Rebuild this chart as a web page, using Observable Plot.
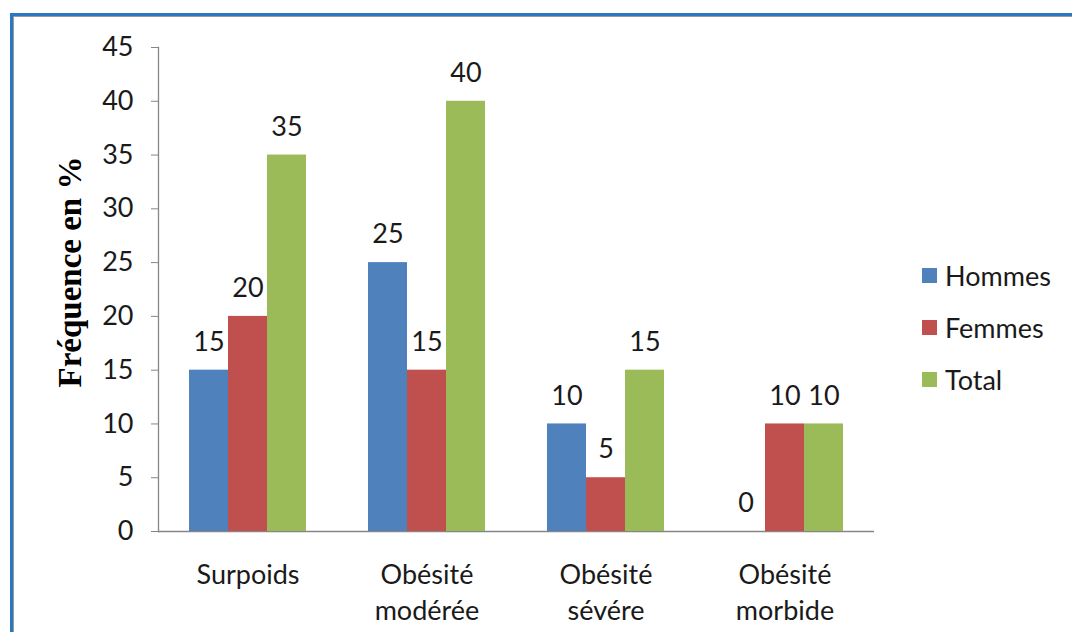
<!DOCTYPE html>
<html><head><meta charset="utf-8">
<script src="https://cdn.jsdelivr.net/npm/d3@7"></script>
<script src="https://cdn.jsdelivr.net/npm/@observablehq/plot@0.6"></script>
<style>
body{margin:0;background:#fff;width:1072px;height:632px;overflow:hidden;position:relative;font-family:Lato,sans-serif}
#frame{position:absolute;left:10px;top:13px;width:1100px;height:700px;border-left:3px solid #2a78c2;border-top:3px solid #2a78c2;box-shadow:inset 1px 1px 0 #9a9a9a;}
#chart{position:absolute;left:0;top:0}
#ylabel{position:absolute;left:70px;top:272px;transform:translate(-50%,-50%) rotate(-90deg);white-space:nowrap;font-family:"Liberation Serif",serif;font-weight:bold;font-size:33px;color:#000;line-height:1}
#legend{position:absolute;left:922px;top:249px;font-size:27px;color:#1a1a1a}
.item{display:flex;align-items:center;height:52px}
.sw{width:15px;height:15px;margin-right:8px}
</style></head><body>
<div id="frame"></div><div id="chart"></div><div id="ylabel"></div><div id="legend"></div>
<script>
const categories = ["Surpoids", "Obésité\nmodérée", "Obésité\nsévére", "Obésité\nmorbide"];
const series = ["Hommes", "Femmes", "Total"];
const hommes = [15, 25, 10, 0];
const femmes = [20, 15, 5, 10];
const total = [35, 40, 15, 10];
const colors = ["#4f81bd", "#c0504d", "#9bbb59"];
const yTicks = [0, 5, 10, 15, 20, 25, 30, 35, 40, 45];
const yLabel = "Fréquence en %";

const valuesBySeries = [hommes, femmes, total];
const table = [];
categories.forEach((c, i) => series.forEach((s, j) => table.push({cat: c, series: s, value: valuesBySeries[j][i]})));

const chart = Plot.plot({
  width: 1072, height: 632,
  marginLeft: 157, marginRight: 197, marginTop: 47, marginBottom: 101,
  style: {fontFamily: "Lato, sans-serif", fontSize: "27px", color: "#1a1a1a", background: "transparent"},
  fx: {domain: categories, padding: 0, label: null},
  x: {domain: series, paddingInner: 0, paddingOuter: 0.78, axis: null},
  y: {domain: [0, 45]},
  color: {domain: series, range: colors},
  marks: [
    Plot.frame({anchor: "left", facet: "super", stroke: "#868686", strokeWidth: 1.3}),
    Plot.ruleY([0], {stroke: "#868686", strokeWidth: 1.3}),
    Plot.barY(table, {fx: "cat", x: "series", y: "value", fill: "series"}),
    Plot.text(table, {fx: "cat", x: "series", y: "value", text: d => String(d.value), dy: -28, fontSize: 27, fill: "#1a1a1a"}),
    Plot.axisY({ticks: yTicks, tickSize: 7, tickPadding: 18, stroke: "#868686", fill: "#1a1a1a", label: null}),
    Plot.axisFx({anchor: "bottom", tickSize: 0, tickPadding: 28, lineHeight: 1.3, label: null, fill: "#1a1a1a"})
  ]
});
document.getElementById("chart").appendChild(chart);
document.getElementById("ylabel").textContent = yLabel;

const legend = document.getElementById("legend");
series.forEach((s, i) => {
  const item = document.createElement("div");
  item.className = "item";
  const sw = document.createElement("span");
  sw.className = "sw";
  sw.style.background = colors[i];
  const t = document.createElement("span");
  t.textContent = s;
  item.appendChild(sw); item.appendChild(t);
  legend.appendChild(item);
});
</script>
</body></html>
